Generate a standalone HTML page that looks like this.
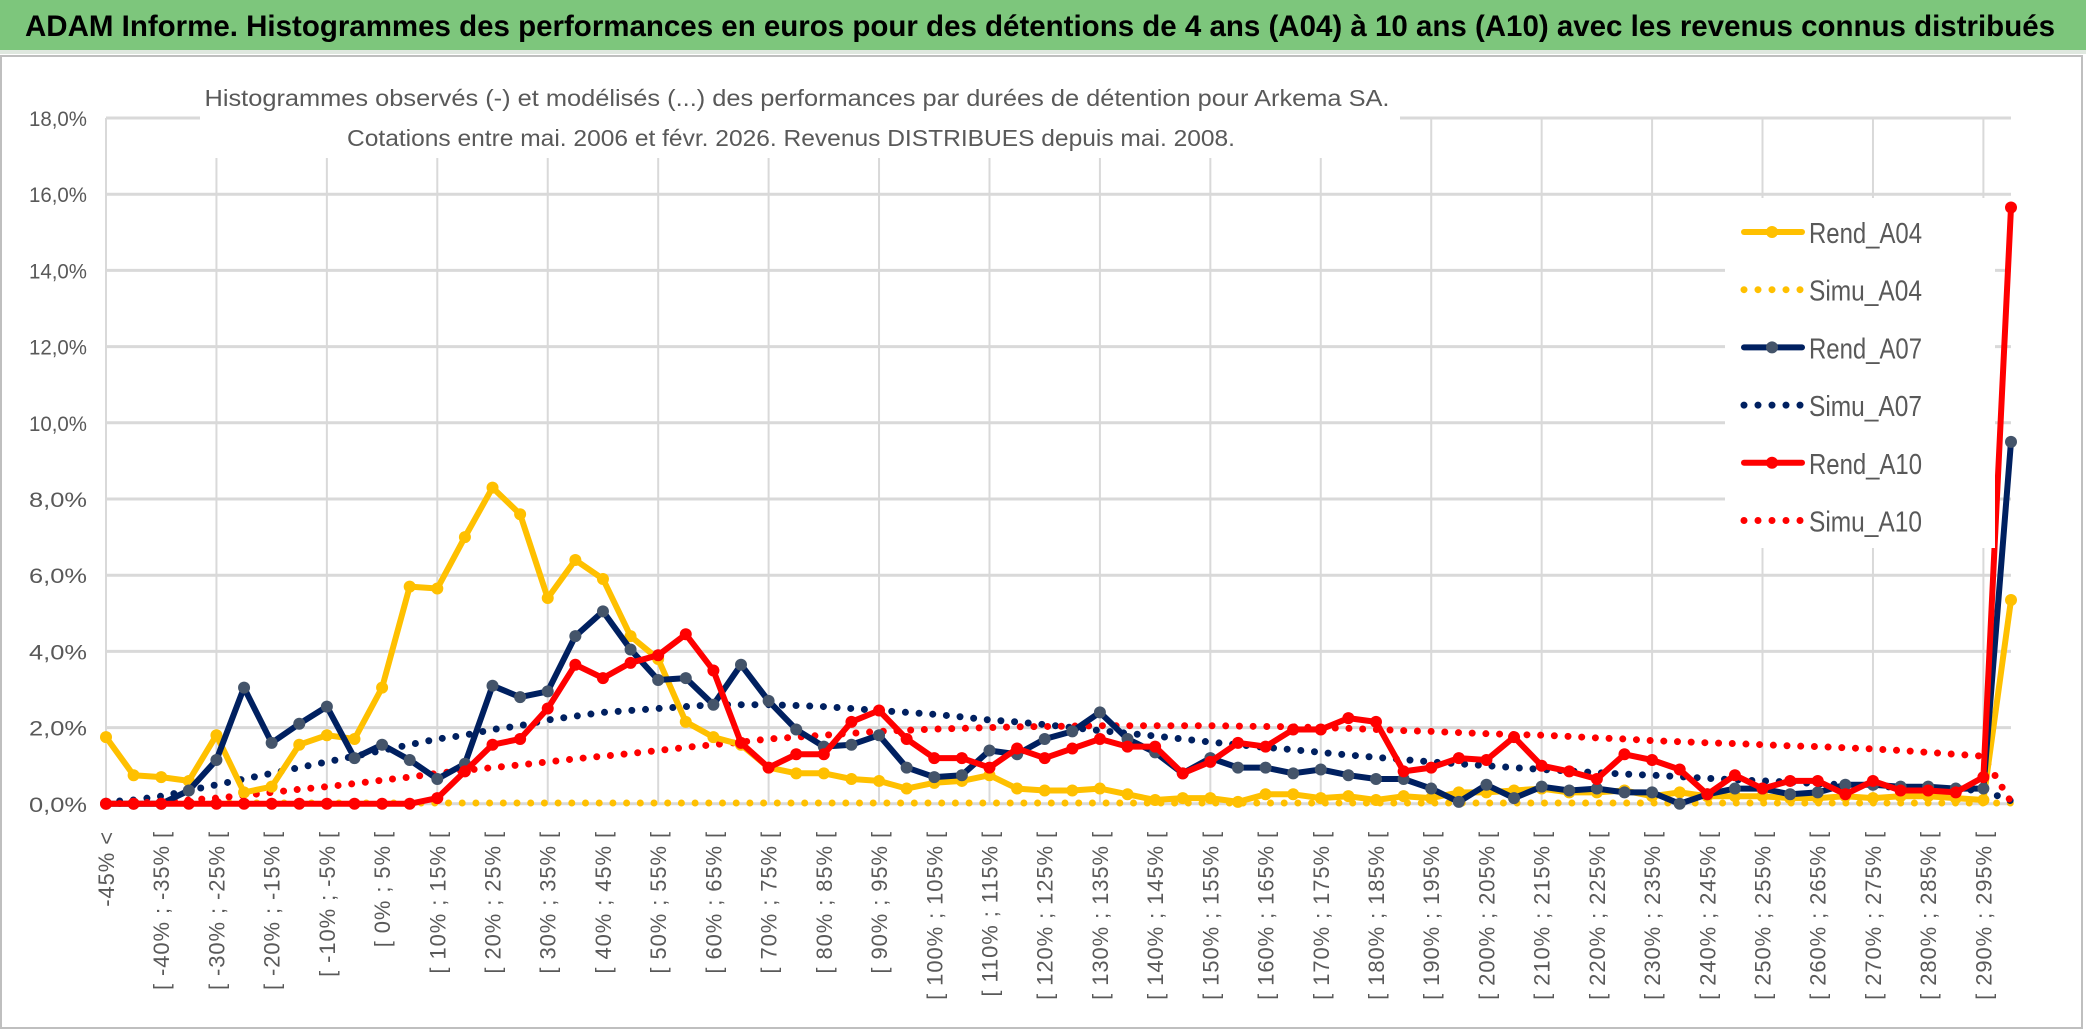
<!DOCTYPE html>
<html><head><meta charset="utf-8"><style>
html,body{margin:0;padding:0;background:#fff}
svg{display:block}
text{font-family:"Liberation Sans",sans-serif}
</style></head><body>
<svg id="chart" width="2086" height="1031" viewBox="0 0 2086 1031" xmlns="http://www.w3.org/2000/svg">
<rect x="0" y="0" width="2086" height="1031" fill="#fff"/>
<rect x="0" y="0" width="2086" height="50" fill="#7dc67c"/>
<rect x="0" y="50" width="2086" height="4" fill="#dfe8df"/>
<text x="1040" y="36" text-anchor="middle" font-size="30" font-weight="bold" fill="#000" textLength="2030" lengthAdjust="spacingAndGlyphs">ADAM Informe. Histogrammes des performances en euros pour des détentions de 4 ans (A04) à 10 ans (A10) avec les revenus connus distribués</text>
<rect x="1" y="56" width="2081" height="972" fill="none" stroke="#bfbfbf" stroke-width="2"/>
<g id="grid"></g>
<rect x="200" y="60" width="1200" height="98" fill="#fff"/>
<text x="797" y="106" text-anchor="middle" font-size="23" fill="#595959" textLength="1185" lengthAdjust="spacingAndGlyphs">Histogrammes observés (-) et modélisés (...) des performances par durées de détention pour Arkema SA.</text>
<text x="791" y="146" text-anchor="middle" font-size="23" fill="#595959" textLength="888" lengthAdjust="spacingAndGlyphs">Cotations entre mai. 2006 et févr. 2026. Revenus DISTRIBUES depuis mai. 2008.</text>
<g id="yaxis"></g>
<g id="xaxis"></g>
<g id="series"></g>
<g id="legend"></g>
</svg>
<script>
const categoriesStart = -45;
const categoryCount = 70;
const yTicks = [0,2,4,6,8,10,12,14,16,18];
const rendA04 = [1.75,0.75,0.7,0.6,1.8,0.3,0.45,1.55,1.8,1.7,3.05,5.7,5.65,7.0,8.3,7.6,5.4,6.4,5.9,4.4,3.8,2.15,1.75,1.55,0.95,0.8,0.8,0.65,0.6,0.4,0.55,0.6,0.75,0.4,0.35,0.35,0.4,0.25,0.1,0.15,0.15,0.05,0.25,0.25,0.15,0.2,0.1,0.2,0.15,0.3,0.3,0.35,0.4,0.3,0.3,0.35,0.2,0.3,0.2,0.2,0.2,0.15,0.15,0.2,0.15,0.2,0.2,0.15,0.1,5.35];
const rendA07 = [0,0,0,0.35,1.15,3.05,1.6,2.1,2.55,1.2,1.55,1.15,0.65,1.05,3.1,2.8,2.95,4.4,5.05,4.05,3.25,3.3,2.6,3.65,2.7,1.95,1.5,1.55,1.8,0.95,0.7,0.75,1.4,1.3,1.7,1.9,2.4,1.7,1.35,0.8,1.2,0.95,0.95,0.8,0.9,0.75,0.65,0.65,0.4,0.05,0.5,0.15,0.45,0.35,0.4,0.3,0.3,0.0,0.25,0.4,0.4,0.25,0.3,0.5,0.5,0.45,0.45,0.4,0.4,9.5];
const rendA10 = [0,0,0,0,0,0,0,0,0,0,0,0,0.15,0.85,1.55,1.7,2.5,3.65,3.3,3.7,3.9,4.45,3.5,1.6,0.95,1.3,1.3,2.15,2.45,1.7,1.2,1.2,0.95,1.45,1.2,1.45,1.7,1.5,1.5,0.8,1.1,1.6,1.5,1.95,1.95,2.25,2.15,0.85,0.95,1.2,1.15,1.75,1.0,0.85,0.65,1.3,1.15,0.9,0.25,0.75,0.4,0.6,0.6,0.25,0.6,0.35,0.35,0.3,0.7,15.65];
const simuA04 = [0.02,0.02,0.02,0.02,0.02,0.02,0.02,0.02,0.02,0.02,0.02,0.02,0.02,0.02,0.02,0.02,0.02,0.02,0.02,0.02,0.02,0.02,0.02,0.02,0.02,0.02,0.02,0.02,0.02,0.02,0.02,0.02,0.02,0.02,0.02,0.02,0.02,0.02,0.02,0.02,0.02,0.02,0.02,0.02,0.02,0.02,0.02,0.02,0.02,0.02,0.02,0.02,0.02,0.02,0.02,0.02,0.02,0.02,0.02,0.02,0.02,0.02,0.02,0.02,0.02,0.02,0.02,0.02,0.02,0.02];
const simuA07 = [0.05,0.1,0.2,0.35,0.5,0.65,0.8,0.95,1.1,1.25,1.4,1.55,1.7,1.8,1.95,2.05,2.2,2.3,2.4,2.45,2.5,2.55,2.6,2.6,2.6,2.58,2.55,2.5,2.45,2.4,2.35,2.28,2.2,2.15,2.08,2.0,1.92,1.85,1.78,1.7,1.62,1.55,1.48,1.42,1.35,1.28,1.22,1.16,1.1,1.05,1.0,0.95,0.9,0.86,0.82,0.78,0.75,0.71,0.67,0.63,0.6,0.57,0.53,0.5,0.46,0.43,0.4,0.38,0.35,0.08];
const simuA10 = [0,0.02,0.05,0.1,0.15,0.22,0.3,0.38,0.45,0.53,0.62,0.7,0.8,0.88,0.95,1.02,1.1,1.18,1.25,1.32,1.4,1.48,1.55,1.62,1.7,1.75,1.8,1.85,1.9,1.93,1.96,1.98,2.0,2.02,2.03,2.04,2.05,2.05,2.05,2.05,2.05,2.04,2.03,2.02,2.0,1.98,1.95,1.92,1.9,1.87,1.84,1.82,1.8,1.77,1.73,1.7,1.66,1.63,1.6,1.58,1.55,1.52,1.5,1.47,1.44,1.4,1.35,1.3,1.25,0.05];

const NS="http://www.w3.org/2000/svg";
const X0=106, X1=2011, Y0=803.8, PER=38.1;
function xs(i){return X0+i*(X1-X0)/(categoryCount-1);}
function ys(v){return Y0-v*PER;}
function mk(tag,attrs,parent){const e=document.createElementNS(NS,tag);for(const k in attrs)e.setAttribute(k,attrs[k]);parent.appendChild(e);return e;}
function catLabel(i){if(i===0)return "-45% <";const a=categoriesStart+(i-1)*5;return "[ "+a+"% ; "+(a+5)+"% [";}

const grid=document.getElementById('grid');
yTicks.forEach(t=>{if(t===0)return;const l=mk('line',{x1:X0,x2:X1,y1:ys(t),y2:ys(t),stroke:'#d9d9d9','stroke-width':3},grid);

});
for(let i=4;i<categoryCount;i+=4){const l=mk('line',{x1:xs(i),x2:xs(i),y1:ys(18),y2:Y0,stroke:'#d9d9d9','stroke-width':2},grid);

}
const ax=mk('line',{x1:X0,x2:X0,y1:ys(18),y2:Y0,stroke:'#d9d9d9','stroke-width':2},grid);


const bx=mk('line',{x1:X0,x2:X1,y1:Y0,y2:Y0,stroke:'#d9d9d9','stroke-width':3},grid);



const yaxis=document.getElementById('yaxis');
yTicks.forEach(t=>{const tx=mk('text',{x:87,y:ys(t)+8,'text-anchor':'end','font-size':21,fill:'#595959',textLength:58,lengthAdjust:'spacingAndGlyphs'},yaxis);
tx.textContent=t.toFixed(1).replace('.',',')+'%';

});

const xaxis=document.getElementById('xaxis');
for(let i=0;i<categoryCount;i+=2){const x=xs(i)+8;const tx=mk('text',{x:x,y:831,'text-anchor':'end','font-size':22,'letter-spacing':0.9,fill:'#595959',transform:'rotate(-90 '+x+' 831)'},xaxis);
tx.textContent=catLabel(i);

}

const series=document.getElementById('series');
function pts(arr){return arr.map((v,i)=>xs(i).toFixed(1)+','+ys(v).toFixed(1)).join(' ');}
function dotted(arr,color,name){const p=mk('polyline',{points:pts(arr),fill:'none',stroke:color,'stroke-width':7,'stroke-linecap':'round','stroke-dasharray':'0 13.7'},series);

}
function solid(arr,color,mcolor,name){const g=mk('g',{},series);


mk('polyline',{points:pts(arr),fill:'none',stroke:color,'stroke-width':6,'stroke-linejoin':'round'},g);
arr.forEach((v,i)=>{const c=mk('circle',{cx:xs(i),cy:ys(v),r:6,fill:mcolor},g);

});}
dotted(simuA04,'#ffc000','simu-a04-line');
dotted(simuA07,'#002060','simu-a07-line');
dotted(simuA10,'#ff0000','simu-a10-line');
solid(rendA04,'#ffc000','#ffc000','rend-a04-line');
solid(rendA07,'#002060','#44546a','rend-a07-line');
solid(rendA10,'#ff0000','#ff0000','rend-a10-line');

const legend=document.getElementById('legend');
const lb=mk('rect',{x:1725,y:198,width:270,height:350,fill:'#fff'},legend);


const entries=[['Rend_A04','#ffc000','#ffc000',false],['Simu_A04','#ffc000',null,true],['Rend_A07','#002060','#44546a',false],['Simu_A07','#002060',null,true],['Rend_A10','#ff0000','#ff0000',false],['Simu_A10','#ff0000',null,true]];
entries.forEach((e,k)=>{const y=232+k*57.7;const g=mk('g',{},legend);


if(e[3]){mk('line',{x1:1744,x2:1802,y1:y,y2:y,stroke:e[1],'stroke-width':7,'stroke-linecap':'round','stroke-dasharray':'0 14'},g);}
else{mk('line',{x1:1744,x2:1802,y1:y,y2:y,stroke:e[1],'stroke-width':6,'stroke-linecap':'round'},g);mk('circle',{cx:1772,cy:y,r:6,fill:e[2]},g);}
const t=mk('text',{x:1809,y:y+11,'font-size':29,fill:'#595959',textLength:113,lengthAdjust:'spacingAndGlyphs'},g);t.textContent=e[0];});
</script>
</body></html>
